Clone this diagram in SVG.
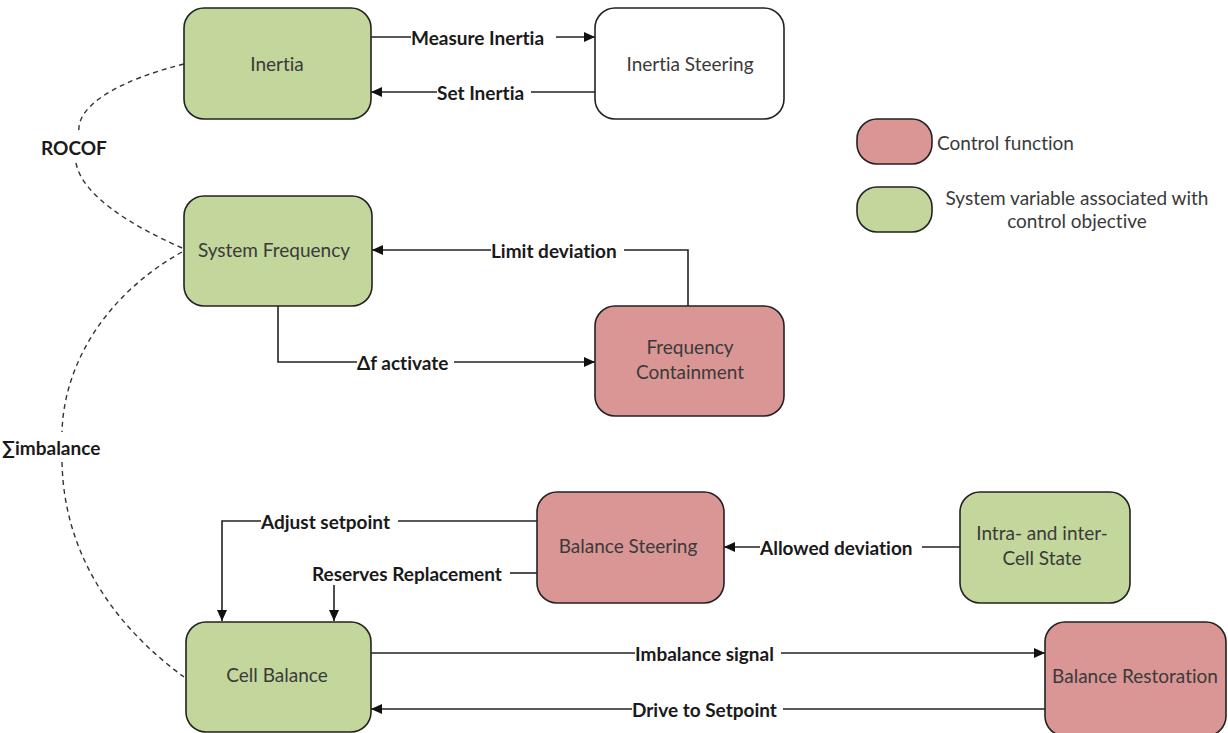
<svg xmlns="http://www.w3.org/2000/svg" width="1228" height="733" viewBox="0 0 1228 733">
<defs>
<marker id="ah" markerUnits="userSpaceOnUse" markerWidth="12" markerHeight="10" refX="11" refY="5" orient="auto">
<path d="M0,0 L11,5 L0,10 z" fill="#111"/>
</marker>
<style>
.g{fill:#c3d69b;stroke:#222;stroke-width:1.6}
.r{fill:#d99694;stroke:#222;stroke-width:1.6}
.w{fill:#fff;stroke:#222;stroke-width:1.6}
text{font-family:Lato,"Open Sans",sans-serif;font-size:19px;font-variant-ligatures:none;font-feature-settings:"liga" 0,"clig" 0}
.t{fill:#3a3a3a;text-anchor:middle;dominant-baseline:central}
.lt{fill:#3a3a3a;dominant-baseline:central}
.l{font-weight:bold;fill:#1a1a1a;dominant-baseline:central}
.c{fill:none;stroke:#222;stroke-width:1.6}
.a{fill:none;stroke:#222;stroke-width:1.6;marker-end:url(#ah)}
.d{fill:none;stroke:#333;stroke-width:1.4;stroke-dasharray:5,4}
</style>
</defs>
<rect width="1228" height="733" fill="#fff"/>

<g id="connectors">
<path class="d" d="M184,64 C120,80 76,105 79,132"/>
<path class="d" d="M76,163 C82,195 130,225 182,248"/>
<path class="d" d="M182,252 C110,292 64,360 62,432"/>
<path class="d" d="M62,462 C64,560 120,630 184,677"/>
<text class="l" x="41" y="147">ROCOF</text>
<text class="l" x="2" y="447">∑imbalance</text>

<path class="c" d="M371,37 H411"/>
<path class="a" d="M556,37 H595"/>
<text class="l" x="411" y="37">Measure Inertia</text>

<path class="c" d="M595,92 H531"/>
<path class="a" d="M437,92 H371"/>
<text class="l" x="437" y="92">Set Inertia</text>

<path class="c" d="M688,306 V250 H624"/>
<path class="a" d="M491,250 H372"/>
<text class="l" x="491" y="250">Limit deviation</text>

<path class="c" d="M278,306 V362 H357"/>
<path class="a" d="M454,362 H595"/>
<text class="l" x="357" y="362">Δf activate</text>

<path class="c" d="M960,547 H922"/>
<path class="a" d="M760,547 H724"/>
<text class="l" x="760" y="547">Allowed deviation</text>

<path class="c" d="M537,521 H398"/>
<path class="a" d="M261,521 H222 V621"/>
<text class="l" x="261" y="521">Adjust setpoint</text>

<path class="c" d="M537,573 H510"/>
<path class="a" d="M334,585 V621"/>
<text class="l" x="312" y="573">Reserves Replacement</text>

<path class="c" d="M371,653 H635"/>
<path class="a" d="M781,653 H1045"/>
<text class="l" x="635" y="653">Imbalance  signal</text>

<path class="c" d="M1045,709 H783"/>
<path class="a" d="M632,709 H371"/>
<text class="l" x="632" y="709">Drive to Setpoint</text>
</g>

<g id="inertia">
<rect class="g" x="184" y="8" width="187" height="111" rx="20"/>
<text class="t" x="277" y="63">Inertia</text>
</g>
<g id="inertia-steering">
<rect class="w" x="595" y="8" width="189" height="111" rx="20"/>
<text class="t" x="690" y="63">Inertia Steering</text>
</g>
<g id="system-frequency">
<rect class="g" x="184" y="196" width="188" height="110" rx="20"/>
<text class="t" x="274" y="249">System  Frequency</text>
</g>
<g id="frequency-containment">
<rect class="r" x="595" y="306" width="189" height="110" rx="20"/>
<text class="t" x="690" y="346">Frequency</text>
<text class="t" x="690" y="371">Containment</text>
</g>
<g id="balance-steering">
<rect class="r" x="537" y="492" width="187" height="111" rx="20"/>
<text class="t" x="628" y="545">Balance Steering</text>
</g>
<g id="cell-state">
<rect class="g" x="960" y="492" width="170" height="111" rx="20"/>
<text class="t" x="1042" y="532">Intra- and inter-</text>
<text class="t" x="1042" y="557">Cell State</text>
</g>
<g id="cell-balance">
<rect class="g" x="186" y="622" width="185" height="110" rx="20"/>
<text class="t" x="277" y="674">Cell Balance</text>
</g>
<g id="balance-restoration">
<rect class="r" x="1045" y="622" width="181" height="114" rx="20"/>
<text class="t" x="1135" y="675">Balance Restoration</text>
</g>

<g id="legend">
<rect class="r" x="857" y="119" width="75" height="45" rx="20"/>
<text class="lt" x="937" y="142">Control function</text>
<rect class="g" x="857" y="187" width="75" height="45" rx="20"/>
<text class="t" x="1077" y="197">System  variable associated with</text>
<text class="t" x="1077" y="220">control objective</text>
</g>
</svg>
